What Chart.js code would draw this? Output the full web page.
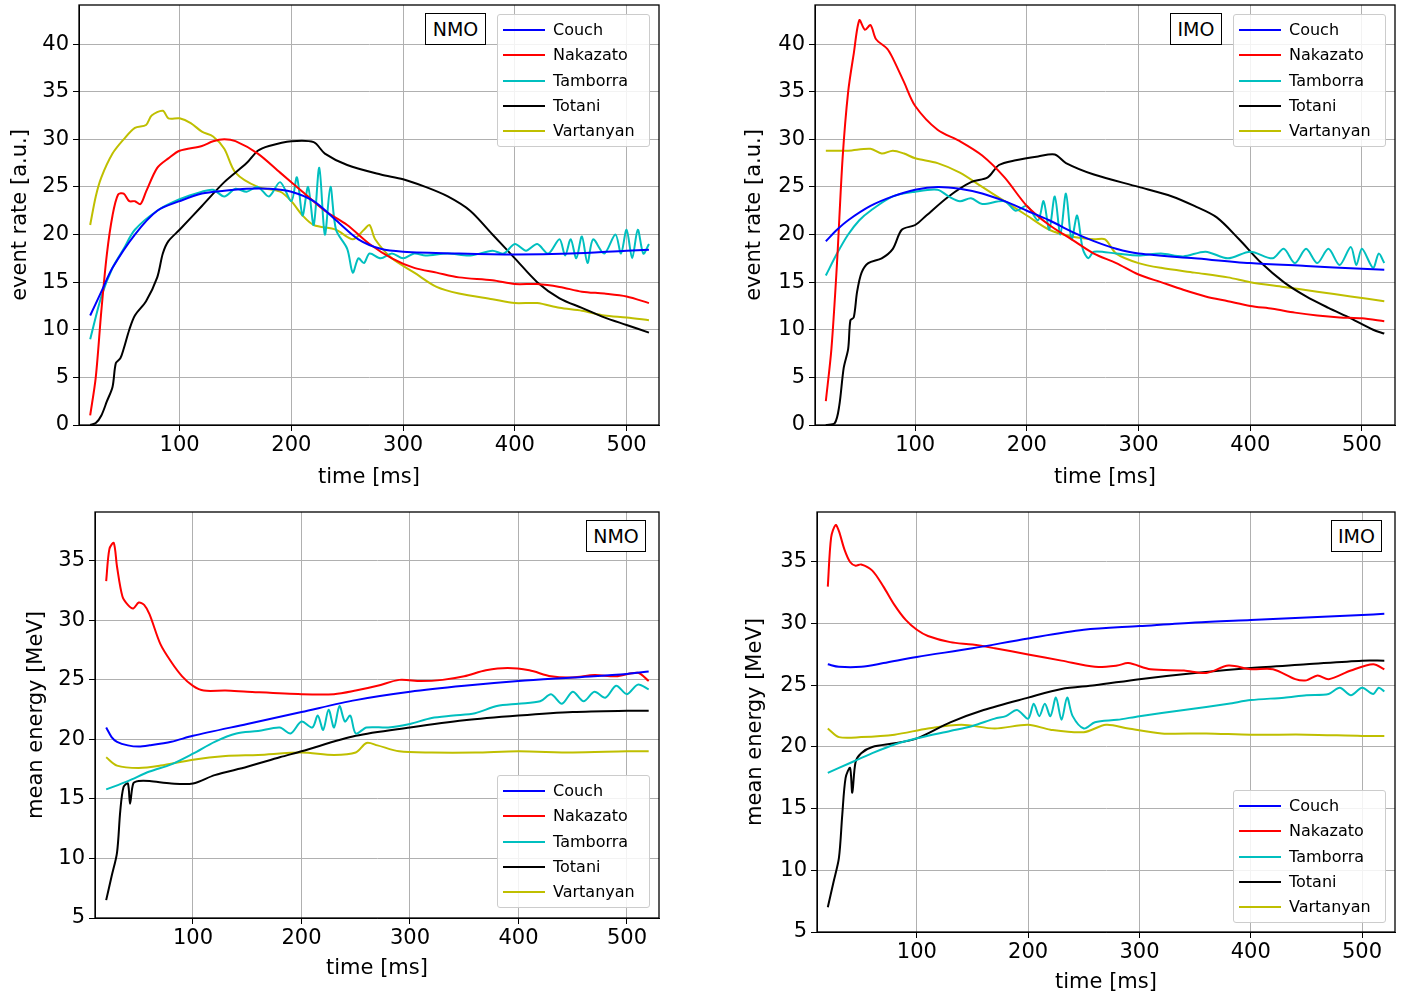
<!DOCTYPE html>
<html>
<head>
<meta charset="utf-8">
<script src="https://cdn.jsdelivr.net/npm/chart.js@4.4.0/dist/chart.umd.min.js"></script>
<style>
body { margin:0; background:#fff; width:1406px; height:995px; position:relative; font-family:"DejaVu Sans", sans-serif; overflow:hidden; }
.box { position:absolute; }
.leg { position:absolute; background:rgba(255,255,255,0.85); border:1px solid #ccc; border-radius:3px; font-size:16px; }
.leg div { position:absolute; left:55px; line-height:18px; }
.leg span { position:absolute; left:5px; width:42px; height:2px; }
.tag { position:absolute; border:1.5px solid #000; background:#fff; font-size:19px; text-align:center; line-height:30px; }
</style>
</head>
<body>
<div class="box" style="left:0;top:0;width:703px;height:490px"><canvas id="c1"></canvas></div>
<div class="box" style="left:703px;top:0;width:703px;height:490px"><canvas id="c2"></canvas></div>
<div class="box" style="left:0;top:490px;width:703px;height:505px"><canvas id="c3"></canvas></div>
<div class="box" style="left:703px;top:490px;width:703px;height:505px"><canvas id="c4"></canvas></div>
<script>
const names = ['Couch', 'Nakazato', 'Tamborra', 'Totani', 'Vartanyan'];
const colors = ['#0000ff', '#ff0000', '#00bfbf', '#000000', '#bfbf00'];
const xTicks = [100, 200, 300, 400, 500];
const rateTicks = [0, 5, 10, 15, 20, 25, 30, 35, 40];
const energyTicks = [5, 10, 15, 20, 25, 30, 35];

// event rate, NMO
const rNmoCouchT = [20,30,40,60,80,100,120,140,160,180,200,220,240,260,280,300,350,400,450,500,520];
const rNmoCouchY = [11.5,14,16.5,20,22.5,23.5,24.3,24.6,24.8,24.8,24.5,23.5,21.5,19.5,18.5,18.2,18,17.9,18,18.3,18.4];
const rNmoNakT = [20,25,30,35,40,45,50,55,60,65,70,80,90,100,120,130,140,150,170,190,210,230,250,270,290,310,330,350,380,400,420,440,460,480,500,520];
const rNmoNakY = [1,5,12,18,22,24.2,24.3,23.5,23.5,23.2,24.5,27,28,28.8,29.3,29.8,30,29.8,28.5,26.5,24.5,22.5,21,19,17.5,16.5,16,15.5,15.2,14.8,14.8,14.5,14,13.8,13.5,12.8];
const rNmoTamT = [20,30,40,50,60,80,100,120,130,140,150,160,170,180,190,200,205,210,215,220,225,230,235,240,250,255,260,265,270,280,290,300,310,320,340,360,380,390,400,410,420,430,440,445,450,455,460,465,470,480,490,495,500,505,510,515,520];
const rNmoTamY = [9,13.5,16.5,18.5,20.5,22.5,23.7,24.5,24.7,24,24.8,24.5,25,24,25.5,23.5,26,22,25,21,27,20,25,20.5,18.5,16,17.5,17,18,17.5,18,17.5,18,17.8,18,17.8,18.3,18,19,18.3,19,18,19.5,17.8,19.5,17.5,19.8,17,19.5,18,20,18,20.5,17.5,20.5,18,19];
const rNmoTotT = [20,25,30,35,40,43,47,50,55,60,70,80,85,90,100,120,140,160,170,180,200,220,230,250,280,300,320,340,360,380,400,420,440,460,480,500,520];
const rNmoTotY = [0,0.2,1,2.5,4,6.5,7,8,10,11.5,13,15.5,18,19.3,20.5,23,25.5,27.5,28.8,29.3,29.8,29.7,28.5,27.3,26.3,25.8,25,24,22.5,20,17.5,15,13.3,12.3,11.3,10.5,9.7];
const rNmoVarT = [20,25,30,40,50,60,70,75,85,90,100,110,120,130,140,150,170,190,200,210,220,240,255,265,270,275,290,310,330,350,380,400,420,440,460,480,500,520];
const rNmoVarY = [21,24,26,28.5,30,31.2,31.5,32.5,33,32.2,32.2,31.7,30.8,30.3,29,26.5,25,24.5,23.5,22,21,20.5,19.5,20.5,21,19.5,17.5,16,14.5,13.8,13.2,12.8,12.8,12.3,12,11.5,11.3,11];

// event rate, IMO
const rImoCouchT = [20,30,40,60,80,100,120,140,160,180,200,220,240,260,280,300,350,400,450,500,520];
const rImoCouchY = [19.3,20.5,21.5,23,24,24.7,25,24.8,24.3,23.5,22.5,21.5,20.3,19.3,18.5,18,17.5,17,16.7,16.4,16.3];
const rImoNakT = [20,25,30,35,40,45,50,55,60,65,75,80,90,100,120,140,160,180,200,220,240,260,280,300,320,340,360,380,400,420,440,460,480,500,520];
const rImoNakY = [2.5,8,17,28,35,39,42.5,41.5,42,40.5,39.5,38.5,36,33.5,31,29.8,28.3,26,23,21,19.5,18,17,15.8,15,14.2,13.5,13,12.5,12.2,11.8,11.5,11.3,11.2,10.9];
const rImoTamT = [20,30,40,50,60,80,100,120,130,140,150,160,180,190,200,210,215,220,225,230,235,240,245,250,255,260,280,300,320,340,360,380,400,420,430,440,450,460,470,480,490,495,500,510,515,520];
const rImoTamY = [15.7,18,20,21.5,22.5,24,24.5,24.7,24,23.5,23.8,23.2,23.5,22.5,23,21.5,23.5,20.5,24,20,24.3,19.5,22,18.5,17.5,18.2,18,17.8,18,17.7,18.2,17.5,18.2,17.5,18.5,17,18.5,17,18.5,16.8,18.7,16.8,18.5,16.5,18,17];
const rImoTotT = [20,28,32,36,40,42,45,48,52,58,70,80,88,100,110,130,150,165,175,190,210,225,235,260,300,330,350,370,390,410,430,450,470,490,510,520];
const rImoTotY = [0,0.2,2,6,8,11,11.3,14,16,17,17.5,18.5,20.5,21,22,24,25.5,26,27.3,27.8,28.2,28.4,27.5,26.3,25,24,23,21.8,19.5,17,15,13.5,12.3,11.2,10,9.6];
const rImoVarT = [20,40,60,70,80,90,100,120,140,160,180,200,220,240,260,270,280,300,320,350,380,400,430,460,490,520];
const rImoVarY = [28.8,28.8,29,28.5,28.8,28.5,28,27.5,26.5,25,23.5,22,20.5,19.8,19.5,19.5,18,17,16.5,16,15.5,15,14.5,14,13.5,13];

// mean energy, NMO
const eNmoCouchT = [20,25,30,40,50,60,80,100,150,200,250,300,350,400,450,500,520];
const eNmoCouchY = [21,20.2,19.8,19.5,19.4,19.5,19.8,20.3,21.3,22.3,23.3,24,24.5,24.9,25.2,25.5,25.7];
const eNmoNakT = [20,23,27,30,35,40,45,50,55,60,70,80,90,100,110,130,150,200,230,250,270,290,310,330,350,370,390,410,430,450,470,490,510,520];
const eNmoNakY = [33.3,36,36.5,34.5,32,31.3,31,31.5,31.3,30.5,28,26.5,25.3,24.5,24.1,24.1,24,23.8,23.8,24.1,24.5,25,24.9,25,25.3,25.8,26,25.8,25.3,25.2,25.4,25.3,25.6,24.9];
const eNmoTamT = [20,40,60,80,100,120,140,160,180,190,200,210,215,220,225,230,235,240,245,250,260,280,300,320,340,360,380,400,420,430,440,450,460,470,480,490,500,510,520];
const eNmoTamY = [15.8,16.5,17.3,17.9,18.8,19.8,20.5,20.7,21,20.5,21.5,21,22,20.8,22.5,21,22.8,21.5,22,20.5,21,21,21.3,21.8,22,22.2,22.8,23,23.2,23.8,23,24,23.2,24,23.5,24.5,23.8,24.6,24.2];
const eNmoTotT = [20,25,30,33,36,40,42,45,50,60,80,100,120,150,180,200,250,300,350,400,450,500,520];
const eNmoTotY = [6.5,8.5,10.5,14,16,16.3,14.6,16.3,16.5,16.5,16.3,16.3,17,17.7,18.5,19,20.3,21,21.6,22,22.3,22.4,22.4];
const eNmoVarT = [20,30,50,70,100,130,160,200,230,250,260,270,290,320,360,400,450,500,520];
const eNmoVarY = [18.5,17.8,17.6,17.8,18.3,18.6,18.7,18.9,18.7,18.9,19.7,19.5,19,18.9,18.9,19,18.9,19,19];

// mean energy, IMO
const eImoCouchT = [20,30,50,70,100,150,200,250,300,350,400,450,500,520];
const eImoCouchY = [26.7,26.5,26.5,26.8,27.3,28,28.8,29.5,29.8,30.1,30.3,30.5,30.7,30.8];
const eImoNakT = [20,23,27,30,35,40,45,50,60,70,80,90,100,110,130,150,170,200,230,260,280,290,310,340,360,380,400,420,440,450,460,470,490,510,520];
const eImoNakY = [33,37,38,37.5,36,35,34.7,34.8,34.3,33,31.5,30.3,29.5,29,28.5,28.3,28,27.5,27,26.5,26.6,26.8,26.3,26.2,26,26.6,26.3,26.3,25.5,25.4,25.8,25.5,26.2,26.7,26.3];
const eImoTamT = [20,40,60,80,100,130,150,170,180,190,200,205,210,215,220,225,230,235,240,250,260,280,300,340,380,400,430,450,470,480,490,500,510,515,520];
const eImoTamY = [17.9,18.7,19.5,20.2,20.7,21.3,21.7,22.3,22.5,23,22.3,23.5,22.5,23.5,22.5,24,22.2,24,22.5,21.5,22,22.2,22.5,23,23.5,23.8,24,24.2,24.3,24.8,24.2,24.8,24.3,24.8,24.5];
const eImoTotT = [20,25,30,33,36,40,42,45,50,60,80,100,130,160,200,230,260,300,350,400,450,500,520];
const eImoTotY = [7,9,11,14.5,17.5,18.3,16.3,18.8,19.5,20,20.3,20.7,22,23,24,24.7,25,25.5,26,26.4,26.7,27,27];
const eImoVarT = [20,30,50,80,110,140,170,200,220,250,270,290,320,360,400,450,500,520];
const eImoVarY = [21.5,20.8,20.8,21,21.5,21.8,21.5,21.8,21.4,21.2,21.8,21.5,21.1,21.1,21,21,20.9,20.9];

function pts(t, y) { return t.map((v, i) => ({ x: v, y: y[i] })); }

const frame = {
  id: 'frame',
  afterDraw(chart) {
    const a = chart.chartArea, c = chart.ctx;
    c.save(); c.strokeStyle = '#000'; c.lineWidth = 1.3;
    c.strokeRect(a.left, a.top, a.right - a.left, a.bottom - a.top);
    c.restore();
  }
};

function makeChart(id, series, o) {
  new Chart(document.getElementById(id), {
    type: 'line',
    data: {
      datasets: series.map((s, i) => ({
        label: names[i], data: pts(s[0], s[1]), borderColor: colors[i],
        borderWidth: 2, pointRadius: 0, tension: 0.3
      }))
    },
    options: {
      responsive: true, maintainAspectRatio: false, animation: false,
      layout: { padding: { top: o.top, right: o.right, left: o.left, bottom: o.bottom } },
      plugins: { legend: { display: false }, tooltip: { enabled: false } },
      scales: {
        x: {
          type: 'linear', min: o.xmin, max: o.xmax,
          afterBuildTicks: s => { s.ticks = xTicks.map(v => ({ value: v })); },
          afterFit: s => { s.height = o.xh; s.paddingLeft = 0; s.paddingRight = 0; },
          grid: { color: '#b0b0b0', tickLength: 6, tickColor: '#000' },
          border: { color: '#000' },
          ticks: { color: '#000', font: { size: 21, family: 'DejaVu Sans' }, maxRotation: 0, padding: 2 },
          title: { display: true, text: 'time [ms]', color: '#000', font: { size: 21, family: 'DejaVu Sans' }, padding: 0 }
        },
        y: {
          min: o.ymin, max: o.ymax,
          afterBuildTicks: s => { s.ticks = o.yticks.map(v => ({ value: v })); },
          afterFit: s => { s.width = o.yw; s.paddingTop = 0; s.paddingBottom = 0; },
          grid: { color: '#b0b0b0', tickLength: 6, tickColor: '#000' },
          border: { color: '#000' },
          ticks: { color: '#000', font: { size: 21, family: 'DejaVu Sans' }, padding: 4 },
          title: { display: true, text: o.ytitle, color: '#000', font: { size: 21, family: 'DejaVu Sans' }, padding: 2 }
        }
      }
    },
    plugins: [frame]
  });
}

makeChart('c1', [[rNmoCouchT, rNmoCouchY], [rNmoNakT, rNmoNakY], [rNmoTamT, rNmoTamY], [rNmoTotT, rNmoTotY], [rNmoVarT, rNmoVarY]],
  { top: 5, right: 44, left: 6, bottom: 0, xh: 65, yw: 73, xmin: 10, xmax: 529, ymin: 0, ymax: 44.1, yticks: rateTicks, ytitle: 'event rate [a.u.]' });
makeChart('c2', [[rImoCouchT, rImoCouchY], [rImoNakT, rImoNakY], [rImoTamT, rImoTamY], [rImoTotT, rImoTotY], [rImoVarT, rImoVarY]],
  { top: 5, right: 11, left: 37, bottom: 0, xh: 65, yw: 75, xmin: 10.3, xmax: 529.6, ymin: 0, ymax: 44.1, yticks: rateTicks, ytitle: 'event rate [a.u.]' });
makeChart('c3', [[eNmoCouchT, eNmoCouchY], [eNmoNakT, eNmoNakY], [eNmoTamT, eNmoTamY], [eNmoTotT, eNmoTotY], [eNmoVarT, eNmoVarY]],
  { top: 22, right: 44, left: 22, bottom: 14, xh: 63, yw: 73, xmin: 9.7, xmax: 529.5, ymin: 5, ymax: 39.1, yticks: energyTicks, ytitle: 'mean energy [MeV]' });
makeChart('c4', [[eImoCouchT, eImoCouchY], [eImoNakT, eImoNakY], [eImoTamT, eImoTamY], [eImoTotT, eImoTotY], [eImoVarT, eImoVarY]],
  { top: 22, right: 11, left: 38, bottom: 0, xh: 63, yw: 76, xmin: 10.3, xmax: 529.6, ymin: 5, ymax: 39.05, yticks: energyTicks, ytitle: 'mean energy [MeV]' });

function legend(x, y) {
  const d = document.createElement('div');
  d.className = 'leg';
  d.style.left = x + 'px'; d.style.top = y + 'px';
  d.style.width = '151px'; d.style.height = '131px';
  names.forEach((n, i) => {
    const sp = document.createElement('span');
    sp.style.top = (14 + i * 25.3) + 'px'; sp.style.background = colors[i];
    const t = document.createElement('div');
    t.style.top = (6 + i * 25.3) + 'px'; t.textContent = n;
    d.appendChild(sp); d.appendChild(t);
  });
  document.body.appendChild(d);
}
function tag(x, y, w, text) {
  const d = document.createElement('div');
  d.className = 'tag';
  d.style.left = x + 'px'; d.style.top = y + 'px'; d.style.width = w + 'px';
  d.textContent = text;
  document.body.appendChild(d);
}
legend(497, 14); legend(1233, 14); legend(497, 775); legend(1233, 790);
tag(425, 13, 59, 'NMO'); tag(1170, 13, 50, 'IMO'); tag(586, 520, 58, 'NMO'); tag(1331, 520, 49, 'IMO');
</script>
</body>
</html>
